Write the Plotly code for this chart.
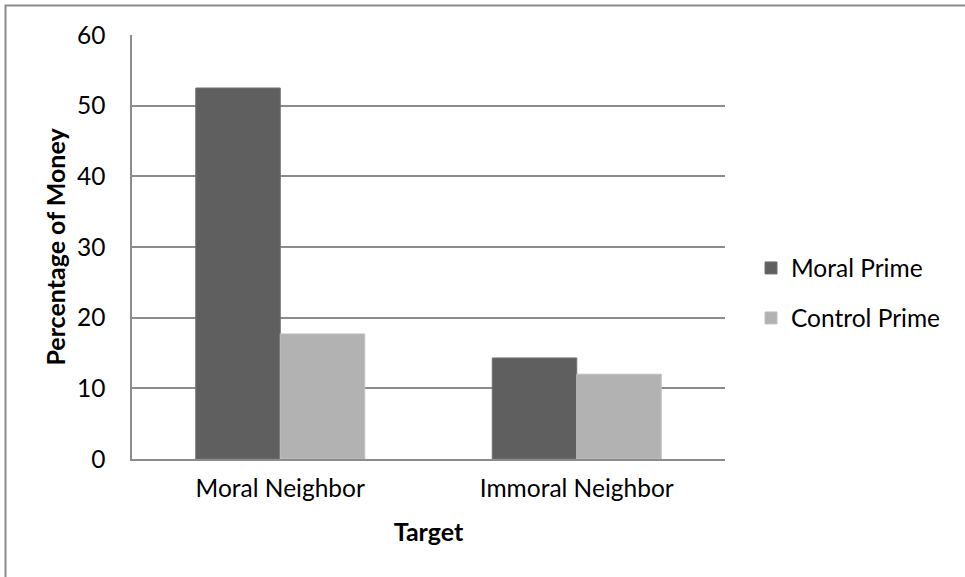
import plotly.graph_objects as go

categories = ["Moral Neighbor", "Immoral Neighbor"]
series_names = ["Moral Prime", "Control Prime"]
moral_prime = [52.5, 14.3]
control_prime = [17.7, 12.0]
colors = ["#5f5f5f", "#b2b2b2"]
y_ticks = [0, 10, 20, 30, 40, 50, 60]

FONT = "Lato"
FS = 24.5
TFS = 25

fig = go.Figure()
fig.add_trace(go.Bar(x=categories, y=moral_prime, name=series_names[0],
                     marker=dict(color=colors[0], line=dict(color="#707070", width=1)),
                     legend="legend"))
fig.add_trace(go.Bar(x=categories, y=control_prime, name=series_names[1],
                     marker=dict(color=colors[1], line=dict(color="#c0c0c0", width=1)),
                     legend="legend2"))

L, R, T, B = 132, 240, 35, 118
W, H = 965, 577
pw = W - L - R
ph = H - T - B

def px_x(p):
    return (p - L) / pw

def px_y(p):
    return 1 - (p - T) / ph

fig.update_layout(
    width=W, height=H,
    margin=dict(l=L, r=R, t=T, b=B),
    paper_bgcolor="white", plot_bgcolor="white",
    font=dict(family=FONT, size=FS, color="black"),
    barmode="group", bargap=0.43, bargroupgap=0,
    showlegend=True,
    legend=dict(x=px_x(751), y=px_y(268), xanchor="left", yanchor="middle",
                font=dict(size=FS), bgcolor="rgba(0,0,0,0)"),
    legend2=dict(x=px_x(751), y=px_y(318), xanchor="left", yanchor="middle",
                 font=dict(size=FS), bgcolor="rgba(0,0,0,0)"),
    xaxis=dict(showline=True, linecolor="#8c8c8c", linewidth=1.5,
               ticks="", showgrid=False, ticklabelstandoff=7,
               title=dict(text="<b>Target</b>", font=dict(size=TFS), standoff=22)),
    yaxis=dict(range=[0, 60], tickvals=y_ticks, showline=True, linecolor="#8c8c8c",
               linewidth=1.5, showgrid=True, gridcolor="#8c8c8c", gridwidth=1.5,
               zeroline=False, ticks="", ticklabelstandoff=20,
               title=dict(text="<b>Percentage of Money</b>", font=dict(size=TFS), standoff=4)),
)

# outer frame (partially visible)
fig.add_shape(type="path", xref="paper", yref="paper",
              path=f"M {px_x(5.5)} {px_y(H + 20)} L {px_x(5.5)} {px_y(5.5)} L {px_x(W + 20)} {px_y(5.5)}",
              line=dict(color="#8c8c8c", width=2))

fig.write_html("out.html")
